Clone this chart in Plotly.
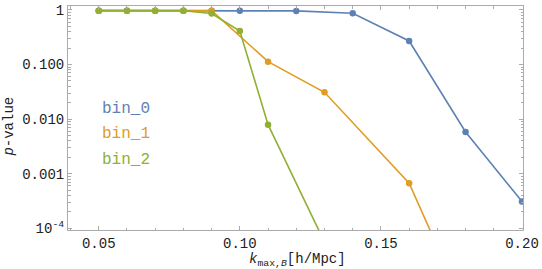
import plotly.graph_objects as go

k_bin0 = [0.05, 0.06, 0.07, 0.08, 0.09, 0.10, 0.12, 0.14, 0.16, 0.18, 0.20]
p_bin0 = [0.97, 0.97, 0.97, 0.97, 0.97, 0.97, 0.96, 0.87, 0.27, 0.0058, 0.00031]

k_bin1 = [0.05, 0.06, 0.07, 0.08, 0.09, 0.11, 0.13, 0.16, 0.18]
p_bin1 = [0.97, 0.97, 0.97, 0.97, 0.97, 0.113, 0.031, 0.00067, 3.2e-6]

k_bin2 = [0.05, 0.06, 0.07, 0.08, 0.09, 0.10, 0.11, 0.13]
p_bin2 = [0.97, 0.97, 0.97, 0.97, 0.86, 0.41, 0.0079, 5.6e-5]

series_names = ["bin_0", "bin_1", "bin_2"]
colors = ["#5E81B5", "#E19C24", "#8FB032"]

x_tickvals = [0.05, 0.10, 0.15, 0.20]
x_ticktext = ["0.05", "0.10", "0.15", "0.20"]
y_tickvals = [1, 0.1, 0.01, 0.001, 0.0001]
y_ticktext = ["1", "0.100", "0.010", "0.001", "10<sup>-4</sup>"]

fig = go.Figure()
for ks, ps, name, c in zip([k_bin0, k_bin1, k_bin2], [p_bin0, p_bin1, p_bin2], series_names, colors):
    fig.add_trace(go.Scatter(x=ks, y=ps, mode="lines+markers", name=name,
                             line=dict(color=c, width=1.6),
                             marker=dict(color=c, size=6.5),
                             cliponaxis=True, showlegend=False))

mono = "Liberation Mono, DejaVu Sans Mono, monospace"
frame = "#ABABAB"

fig.update_layout(
    width=542, height=269,
    margin=dict(l=68, r=16, t=3, b=39),
    paper_bgcolor="white", plot_bgcolor="white",
    font=dict(family=mono, size=14, color="#222"),
    xaxis=dict(range=[0.0391, 0.20035], tickvals=x_tickvals, ticktext=x_ticktext,
               showgrid=False, zeroline=False, showline=True, linecolor=frame, linewidth=1,
               mirror="ticks", ticks="inside", ticklen=4, tickcolor=frame,
               minor=dict(dtick=0.01, tick0=0.0, ticks="inside", ticklen=2.5, tickcolor=frame),
               tickfont=dict(family=mono, size=14, color="#222")),
    yaxis=dict(type="log", range=[-4.031, 0.072], tickvals=y_tickvals, ticktext=y_ticktext,
               showgrid=False, zeroline=False, showline=True, linecolor=frame, linewidth=1,
               mirror="ticks", ticks="inside", ticklen=4, tickcolor=frame,
               minor=dict(dtick="D1", ticks="inside", ticklen=2.5, tickcolor=frame),
               tickfont=dict(family=mono, size=14, color="#222")),
)

legend_y = [0.542, 0.427, 0.313]
for name, c, yy in zip(series_names, colors, legend_y):
    fig.add_annotation(text=name, xref="paper", yref="paper", x=0.070, y=yy,
                       xanchor="left", yanchor="middle", showarrow=False,
                       font=dict(family=mono, size=16, color=c))

fig.add_annotation(text="<i>p</i>-value", xref="paper", yref="paper",
                   x=-0.129, y=0.463, xanchor="center", yanchor="middle", textangle=-90,
                   showarrow=False, font=dict(family=mono, size=14, color="#222"))
fig.add_annotation(text="<i>k</i><sub>max,<i>B</i></sub>[h/Mpc]", xref="paper", yref="paper",
                   x=0.504, y=-0.132, xanchor="center", yanchor="middle",
                   showarrow=False, font=dict(family=mono, size=14, color="#222"))

fig.write_html("out.html", config={"displayModeBar": False},
               post_script="document.body.style.margin='0px';document.body.style.overflow='hidden';")
